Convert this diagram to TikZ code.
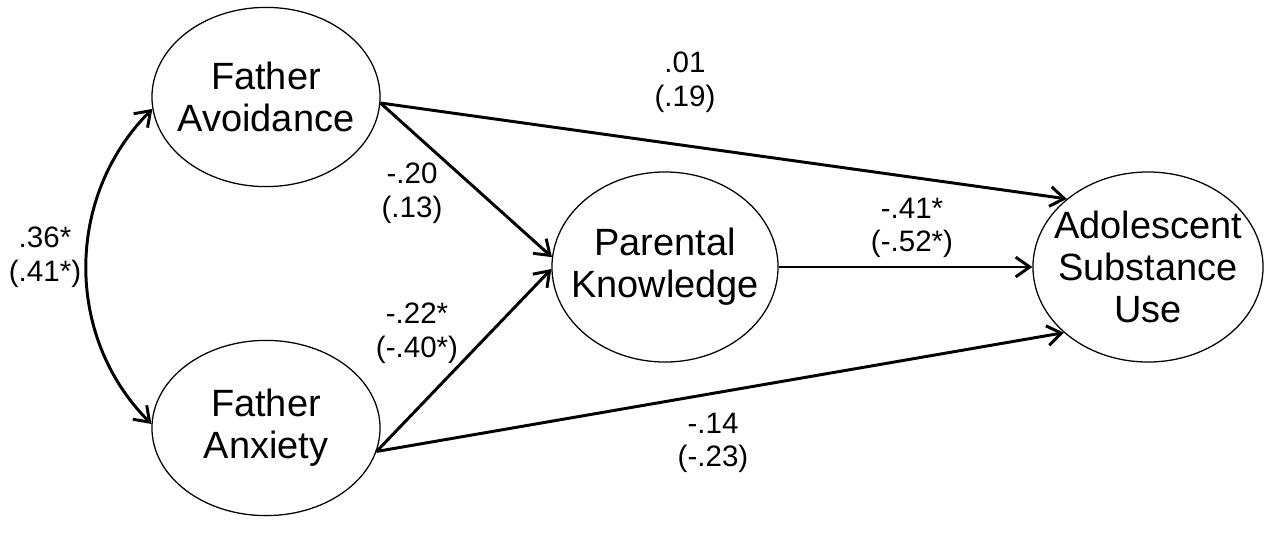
\documentclass[tikz,border=0pt]{standalone}
\usepackage{fontspec}
\setmainfont{Liberation Sans}
\usetikzlibrary{positioning,arrows.meta,shapes.geometric}

\begin{document}
\begin{tikzpicture}[x=0.025cm,y=-0.025cm,
  latent/.style={ellipse, draw=black, line width=0.9pt, inner sep=-0.6cm,
    align=center, font=\fontsize{27}{30}\selectfont},
  coef/.style={align=center, inner sep=0pt, font=\fontsize{21}{24}\selectfont},
  regpath/.style={line width=2.1pt,
    -{Straight Barb[length=10pt,width=14pt]}},
  corrpath/.style={line width=2.1pt,
    {Straight Barb[length=10pt,width=14pt]}-{Straight Barb[length=10pt,width=14pt]}}
]
  % canvas: coordinates are pixels of the original figure, y pointing down
  \useasboundingbox (0,0) rectangle (1270,552);

  % latent variables
  \node[latent, minimum width=5.7cm, minimum height=4.48cm] (fav) at (266,97) {Father\\Avoidance};
  \node[latent, minimum width=5.7cm, minimum height=4.38cm] (fanx) at (266,428) {Father\\Anxiety};
  \node[latent, minimum width=5.65cm, minimum height=4.75cm] (pk) at (665,267) {Parental\\Knowledge};
  \node[latent, minimum width=5.75cm, minimum height=4.75cm] (asu) at (1148,267) {Adolescent\\Substance\\Use};

  % correlation between the two father variables
  \draw[corrpath] (fav.186) to[out=225,in=135,looseness=1] (fanx.178);

  % regression paths
  \draw[regpath] (fav.-3) -- (asu.140);
  \draw[regpath] (fav.-3) -- (pk.175);
  \draw[regpath] (fanx.-12) -- (pk.181);
  \draw[regpath] (fanx.-12) -- (asu.218);
  \draw[regpath] (pk.east) -- (asu.west);

  % coefficients
  \node[coef] (c-corr) at (45,257) {.36*\\(.41*)};
  \node[coef] (c-fav-asu) at (685,82) {.01\\(.19)};
  \node[coef] (c-fav-pk) at (412,193) {-.20\\(.13)};
  \node[coef] (c-fanx-pk) at (417,333) {-.22*\\(-.40*)};
  \node[coef] (c-pk-asu) at (912,228) {-.41*\\(-.52*)};
  \node[coef] (c-fanx-asu) at (713,443) {-.14\\(-.23)};
\end{tikzpicture}
\end{document}
